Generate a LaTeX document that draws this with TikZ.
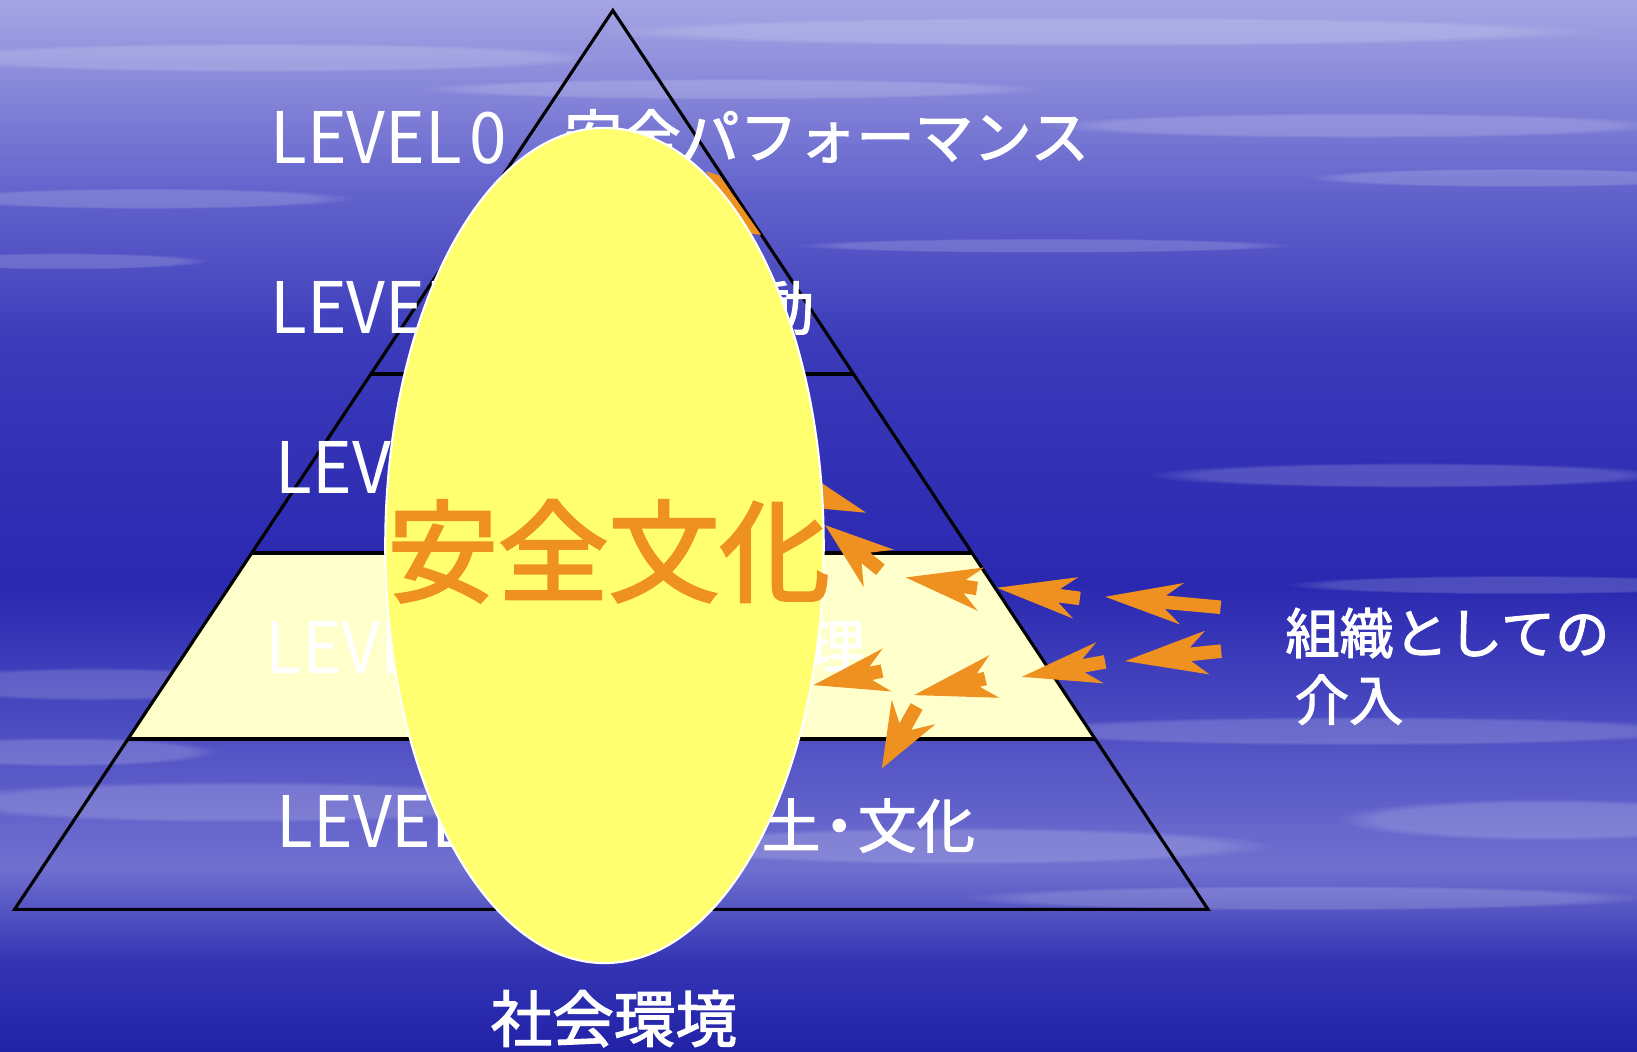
\documentclass[tikz,border=0pt]{standalone}
\usepackage{fontspec}
\usepackage{graphicx}
\newfontfamily\jp{Noto Sans CJK JP}
\newfontfamily\jpm{Noto Sans CJK JP}[FakeBold=2]
\newfontfamily\jpk{Noto Sans CJK JP}[FakeBold=2.5]
\usetikzlibrary{calc,fadings}
\definecolor{bg0}{RGB}{165,165,228}
\definecolor{bg1}{RGB}{100,100,205}
\definecolor{bg2}{RGB}{58,58,186}
\definecolor{bg3}{RGB}{42,40,176}
\definecolor{bg4}{RGB}{78,78,195}
\definecolor{bg5}{RGB}{112,112,208}
\definecolor{bg6}{RGB}{52,52,180}
\definecolor{bg7}{RGB}{34,34,168}
\definecolor{bandc}{RGB}{255,255,204}
\definecolor{ellc}{RGB}{255,255,112}
\definecolor{arrc}{RGB}{238,145,32}
\begin{document}
\begin{tikzpicture}[x=1pt,y=-1pt,
  tri/.style={draw=black,line width=3pt,line join=miter},
  hline/.style={draw=black,line width=4pt},
  lvl/.style={text=white,font=\jp\fontsize{68}{70}\selectfont,inner sep=0,anchor=base west},
  jpt/.style={text=white,font=\jpm\fontsize{56}{60}\selectfont,inner sep=0},
  streak/.style={white,opacity=0.17,path fading=circle with fuzzy edge 20 percent},
  pics/darr/.style args={#1/#2/#3}{code={
    \fill[arrc] (0,0) -- (#2,-#3) -- ({#2-16},-6.5) -- (#1,-6.5) -- (#1,6.5) -- ({#2-16},6.5) -- (#2,#3) -- cycle;}}
]
\useasboundingbox (0,0) rectangle (1568,1007);
% background
\shade[top color=bg0,bottom color=bg1] (0,0) rectangle (1568,181);
\shade[top color=bg1,bottom color=bg2] (0,180) rectangle (1568,331);
\shade[top color=bg2,bottom color=bg3] (0,330) rectangle (1568,561);
\shade[top color=bg3,bottom color=bg4] (0,560) rectangle (1568,701);
\shade[top color=bg4,bottom color=bg5] (0,700) rectangle (1568,831);
\shade[top color=bg5,bottom color=bg6] (0,830) rectangle (1568,921);
\shade[top color=bg6,bottom color=bg7] (0,920) rectangle (1568,1007);
\fill[streak] (250,55) ellipse [x radius=330pt,y radius=14pt];
\fill[streak] (700,85) ellipse [x radius=300pt,y radius=10pt];
\fill[streak] (1050,30) ellipse [x radius=480pt,y radius=14pt];
\fill[streak] (1300,120) ellipse [x radius=300pt,y radius=12pt];
\fill[streak] (1450,170) ellipse [x radius=200pt,y radius=9pt];
\fill[streak] (140,190) ellipse [x radius=200pt,y radius=10pt];
\fill[streak] (60,250) ellipse [x radius=140pt,y radius=8pt];
\fill[streak] (1000,235) ellipse [x radius=240pt,y radius=7pt];
\fill[streak] (1350,455) ellipse [x radius=250pt,y radius=12pt];
\fill[streak] (1450,560) ellipse [x radius=220pt,y radius=9pt];
\fill[streak] (90,655) ellipse [x radius=180pt,y radius=16pt];
\fill[streak] (60,720) ellipse [x radius=150pt,y radius=14pt];
\fill[streak] (230,768) ellipse [x radius=300pt,y radius=20pt];
\fill[streak] (1300,700) ellipse [x radius=340pt,y radius=14pt];
\fill[streak] (1480,785) ellipse [x radius=200pt,y radius=20pt];
\fill[streak] (920,810) ellipse [x radius=300pt,y radius=18pt];
\fill[streak] (1250,860) ellipse [x radius=330pt,y radius=12pt];
% pyramid
\coordinate (apex) at (587,10);
\coordinate (bl) at (14,871);
\coordinate (br) at (1157,871);
\fill[bandc] ($(apex)!0.6039!(bl)$) -- ($(apex)!0.6039!(br)$) -- ($(apex)!0.8107!(br)$) -- ($(apex)!0.8107!(bl)$) -- cycle;
\draw[hline] ($(apex)!0.2044!(bl)$) -- ($(apex)!0.2044!(br)$);
\draw[hline] ($(apex)!0.4042!(bl)$) -- ($(apex)!0.4042!(br)$);
\draw[hline] ($(apex)!0.6039!(bl)$) -- ($(apex)!0.6039!(br)$);
\draw[hline] ($(apex)!0.8107!(bl)$) -- ($(apex)!0.8107!(br)$);
\draw[tri] (apex) -- (bl) -- (br) -- cycle;
% level labels
\node[lvl] (l0) at (259,157) {\scalebox{0.95}[1]{LEVEL\kern8pt0}};
\node[jpt,anchor=base west] (t0) at (540,152) {安全パフォーマンス};
\node[lvl] (l1) at (259,319) {\scalebox{0.95}[1]{LEVEL}};
\node[jpt,anchor=base east] (t1) at (780,316) {動};
\node[lvl] (l2) at (264,473) {\scalebox{0.95}[1]{LEVEL}};
\node[lvl] (l3) at (254,645) {\scalebox{0.95}[1]{LEVEL}};
\node[jpt,anchor=base east] (t3) at (829,640) {理};
\node[lvl] (l4) at (265,812) {\scalebox{0.95}[1]{LEVEL}};
\node[jpt,anchor=base east] (t4) at (934,812) {土\kern-10pt・\kern-10pt文化};
% arrows
\fill[arrc] (676,164) -- (689,168) -- (729,225) -- (714,223) -- cycle;
\fill[arrc] (780,458) -- (829.6,491.1) -- (785,487) -- cycle;
\pic[rotate=-5.2] at (1058.6,571.6) {darr=111/74/20};
\pic[rotate=5.9] at (1077.7,633.2) {darr=92.5/79/21};
\pic[rotate=-7.3] at (955,563) {darr=80/76/20};
\pic[rotate=10.2] at (978.8,648.3) {darr=81/76/20};
\pic[rotate=-8.8] at (867.6,553.1) {darr=69/73/21};
\pic[rotate=11.6] at (779.2,656.2) {darr=67/72/21};
\pic[rotate=13.1] at (875.6,665.8) {darr=70/79/21};
\pic[rotate=60.7] at (844.7,736) {darr=68/62/24};
\pic[rotate=-38.9] at (790.4,503) {darr=68/66/23};
% ellipse
\filldraw[fill=ellc,draw=white,line width=2pt] (579,522.5) ellipse [x radius=210pt,y radius=400pt];
\node[text=arrc,font=\jpk\fontsize{106}{110}\selectfont,inner sep=0] (bunka) at (583,528) {安全文化};
% other labels
\node[jpt,font=\jpm\fontsize{59}{64}\selectfont,anchor=base] (shakai) at (588,998) {社会環境};
\node[jpt,font=\jpm\fontsize{52}{58}\selectfont,anchor=base west] (soshiki) at (1231,626) {組織としての};
\node[jpt,font=\jpm\fontsize{52}{58}\selectfont,anchor=base west] (kainyu) at (1240,690) {介入};
\end{tikzpicture}
\end{document}
